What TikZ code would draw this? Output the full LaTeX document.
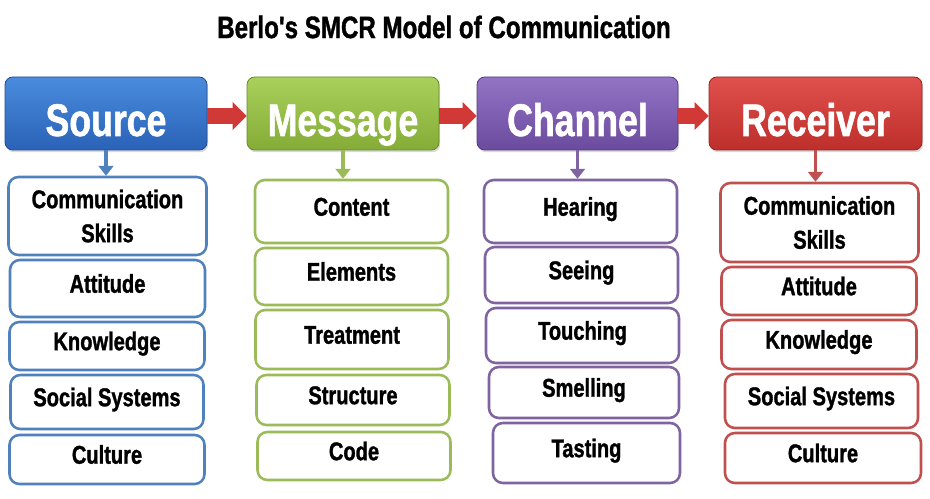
\documentclass[tikz,border=0pt]{standalone}
\usepackage{fontspec}
\newfontfamily\condfont{Liberation Sans}[FakeStretch=0.78, BoldFeatures={FakeBold=1.2}]
\usepackage{xcolor}
\usepackage{tikz}
\usetikzlibrary{arrows.meta,shadows}

\definecolor{srcline}{HTML}{4F81BD}
\definecolor{msgline}{HTML}{9BBB59}
\definecolor{chnline}{HTML}{8064A2}
\definecolor{rcvline}{HTML}{C0504D}
\definecolor{srctop}{HTML}{4A8BDD}
\definecolor{srcbot}{HTML}{2A62B8}
\definecolor{msgtop}{HTML}{A8D15A}
\definecolor{msgbot}{HTML}{84AC36}
\definecolor{chntop}{HTML}{9373C4}
\definecolor{chnbot}{HTML}{6A4B9E}
\definecolor{rcvtop}{HTML}{E0504C}
\definecolor{rcvbot}{HTML}{BD2F2B}
\definecolor{flowred}{HTML}{D03935}

\newlength\pxl
\setlength\pxl{0.025cm}

\begin{document}
\begin{tikzpicture}[x=0.025cm, y=-0.025cm]
    \useasboundingbox (0,0) rectangle (930,499);
    \tikzstyle{head}=[rectangle, rounded corners=5.5pt, draw, line width=0.6pt, text=white,
    font=\condfont\bfseries\fontsize{32.5}{36}\selectfont, minimum height=73\pxl,
    text height=32pt, text depth=0pt,
    drop shadow={opacity=0.3, shadow xshift=0.8pt, shadow yshift=-1.6pt}]
    \tikzstyle{item}=[rectangle, rounded corners=7pt, draw, fill=white, line width=1.8pt,
    align=center, font=\condfont\bfseries\fontsize{18.3}{24.2}\selectfont]
    \tikzstyle{oneline}=[item, text height=13pt, text depth=7pt]
    \tikzstyle{flow}=[-{Triangle[length=10pt, width=19.5pt]}, line width=11pt, flowred]
    \tikzstyle{dnarrow}=[-{Triangle[length=7pt, width=10.5pt]}, line width=2.4pt]

    \node[font=\condfont\bfseries\fontsize{22}{26}\selectfont](title) at (444,27){Berlo's SMCR Model of Communication};

    % the four headers
    \node[head, top color=srctop, bottom color=srcbot, draw=srcbot!80!black,
    minimum width = 202\pxl](src) at (106,113.5){Source};
    \node[head, top color=msgtop, bottom color=msgbot, draw=msgbot!80!black,
    minimum width = 192\pxl](msg) at (343,113.5){Message};
    \node[head, top color=chntop, bottom color=chnbot, draw=chnbot!80!black,
    minimum width = 201\pxl](chn) at (577.5,113.5){Channel};
    \node[head, top color=rcvtop, bottom color=rcvbot, draw=rcvbot!80!black,
    minimum width = 213\pxl](rcv) at (815.5,113.5){Receiver};

    \draw[flow] ([yshift=-1.8pt]src.east) -- ([yshift=-1.8pt]msg.west);
    \draw[flow] ([yshift=-1.8pt]msg.east) -- ([yshift=-1.8pt]chn.west);
    \draw[flow] ([yshift=-1.8pt]chn.east) -- ([yshift=-1.8pt]rcv.west);

    % source
    \node[item, draw=srcline, minimum width = 198\pxl, minimum height = 78\pxl](s1) at (107.5,216){Communication\\Skills};
    \node[oneline, draw=srcline, minimum width = 195\pxl, minimum height = 57\pxl](s2) at (107.5,288.5){Attitude};
    \node[oneline, draw=srcline, minimum width = 195\pxl, minimum height = 48\pxl](s3) at (107,346){Knowledge};
    \node[oneline, draw=srcline, minimum width = 193\pxl, minimum height = 54\pxl](s4) at (107,402){Social Systems};
    \node[oneline, draw=srcline, minimum width = 195\pxl, minimum height = 49\pxl](s5) at (107,459.5){Culture};

    % message
    \node[oneline, draw=msgline, minimum width = 193\pxl, minimum height = 63\pxl](m1) at (351.5,211.5){Content};
    \node[oneline, draw=msgline, minimum width = 193\pxl, minimum height = 57\pxl](m2) at (351.5,276.5){Elements};
    \node[oneline, draw=msgline, minimum width = 193\pxl, minimum height = 59\pxl](m3) at (352,339.5){Treatment};
    \node[oneline, draw=msgline, minimum width = 193\pxl, minimum height = 50\pxl](m4) at (353,400){Structure};
    \node[oneline, draw=msgline, minimum width = 193\pxl, minimum height = 48\pxl](m5) at (354,456){Code};

    % channel
    \node[oneline, draw=chnline, minimum width = 193\pxl, minimum height = 63\pxl](c1) at (580.5,211.5){Hearing};
    \node[oneline, draw=chnline, minimum width = 193\pxl, minimum height = 56\pxl](c2) at (581.5,275){Seeing};
    \node[oneline, draw=chnline, minimum width = 193\pxl, minimum height = 55\pxl](c3) at (582.5,335.5){Touching};
    \node[oneline, draw=chnline, minimum width = 190\pxl, minimum height = 51\pxl](c4) at (584,392.5){Smelling};
    \node[oneline, draw=chnline, minimum width = 187\pxl, minimum height = 60\pxl](c5) at (586.5,453){Tasting};

    % receiver
    \node[item, draw=rcvline, minimum width = 198\pxl, minimum height = 79\pxl](r1) at (819.5,222.5){Communication\\Skills};
    \node[oneline, draw=rcvline, minimum width = 195\pxl, minimum height = 48\pxl](r2) at (819,291){Attitude};
    \node[oneline, draw=rcvline, minimum width = 195\pxl, minimum height = 49\pxl](r3) at (819,344.5){Knowledge};
    \node[oneline, draw=rcvline, minimum width = 193\pxl, minimum height = 54\pxl](r4) at (821.5,401){Social Systems};
    \node[oneline, draw=rcvline, minimum width = 196\pxl, minimum height = 50\pxl](r5) at (823,458){Culture};

    \draw[dnarrow, srcline] (src.south) -- (src.south |- s1.north);
    \draw[dnarrow, msgline] (msg.south) -- (msg.south |- m1.north);
    \draw[dnarrow, chnline] (chn.south) -- (chn.south |- c1.north);
    \draw[dnarrow, rcvline] (rcv.south) -- (rcv.south |- r1.north);
\end{tikzpicture}
\end{document}
